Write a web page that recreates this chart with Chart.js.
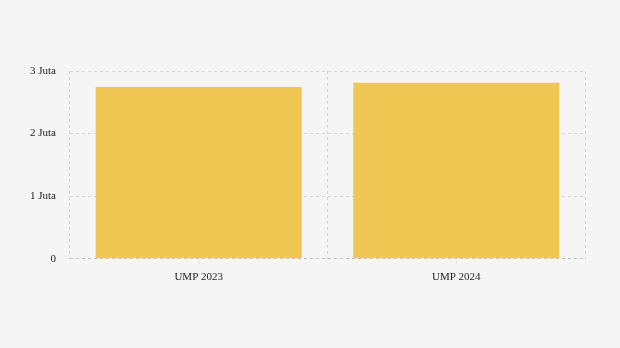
<!DOCTYPE html>
<html>
<head>
<meta charset="utf-8">
<script src="https://cdn.jsdelivr.net/npm/chart.js@4/dist/chart.umd.min.js"></script>
<style>
  html, body { margin: 0; padding: 0; background: #f5f5f5; }
  #wrap { width: 620px; height: 348px; }
</style>
</head>
<body>
<div id="wrap"><canvas id="chart"></canvas></div>
<script>
const labels = ['UMP 2023', 'UMP 2024'];
const values = [2742476, 2811449];
const yTicks = [0, 1000000, 2000000, 3000000];

const context = document.querySelector('#chart').getContext('2d');
Chart.defaults.font.family = "'Liberation Serif', 'DejaVu Serif', serif";
Chart.defaults.font.size = 11;
Chart.defaults.color = '#222';

// small tick marks under the x axis, at the middle of each bar
const centerTicks = {
  id: 'centerTicks',
  afterDraw(chart) {
    const x = chart.scales.x;
    const ctx = chart.ctx;
    ctx.save();
    ctx.strokeStyle = '#e2e2e2';
    ctx.lineWidth = 1;
    labels.forEach((l, i) => {
      const px = Math.round(x.getPixelForValue(i)) + 0.5;
      ctx.beginPath();
      ctx.moveTo(px, x.top + 1);
      ctx.lineTo(px, x.top + 5);
      ctx.stroke();
    });
    ctx.restore();
  }
};

new Chart(context, {
  type: 'bar',
  data: {
    labels,
    datasets: [{
      data: values,
      backgroundColor: '#f0c752',
      categoryPercentage: 1,
      barPercentage: 0.8
    }]
  },
  options: {
    responsive: true,
    maintainAspectRatio: false,
    animation: false,
    layout: { padding: { top: 71, right: 35, bottom: 52, left: 16 } },
    plugins: { legend: { display: false }, tooltip: { enabled: false } },
    scales: {
      x: {
        grid: { color: '#d4d4d4', lineWidth: 1, drawTicks: false },
        border: { display: false, dash: [3, 3] },
        ticks: { padding: 12 }
      },
      y: {
        min: 0,
        max: 3000000,
        afterBuildTicks: (axis) => { axis.ticks = yTicks.map((v) => ({ value: v })); },
        grid: {
          color: (c) => c.tick && c.tick.value === 0 ? '#c0c0c0' : '#d4d4d4',
          lineWidth: 1,
          drawTicks: false
        },
        border: { display: false, dash: [3, 3] },
        ticks: {
          padding: 14,
          callback: (v) => v === 0 ? '0' : (v / 1000000) + ' Juta'
        }
      }
    }
  },
  plugins: [centerTicks]
});
</script>
</body>
</html>
